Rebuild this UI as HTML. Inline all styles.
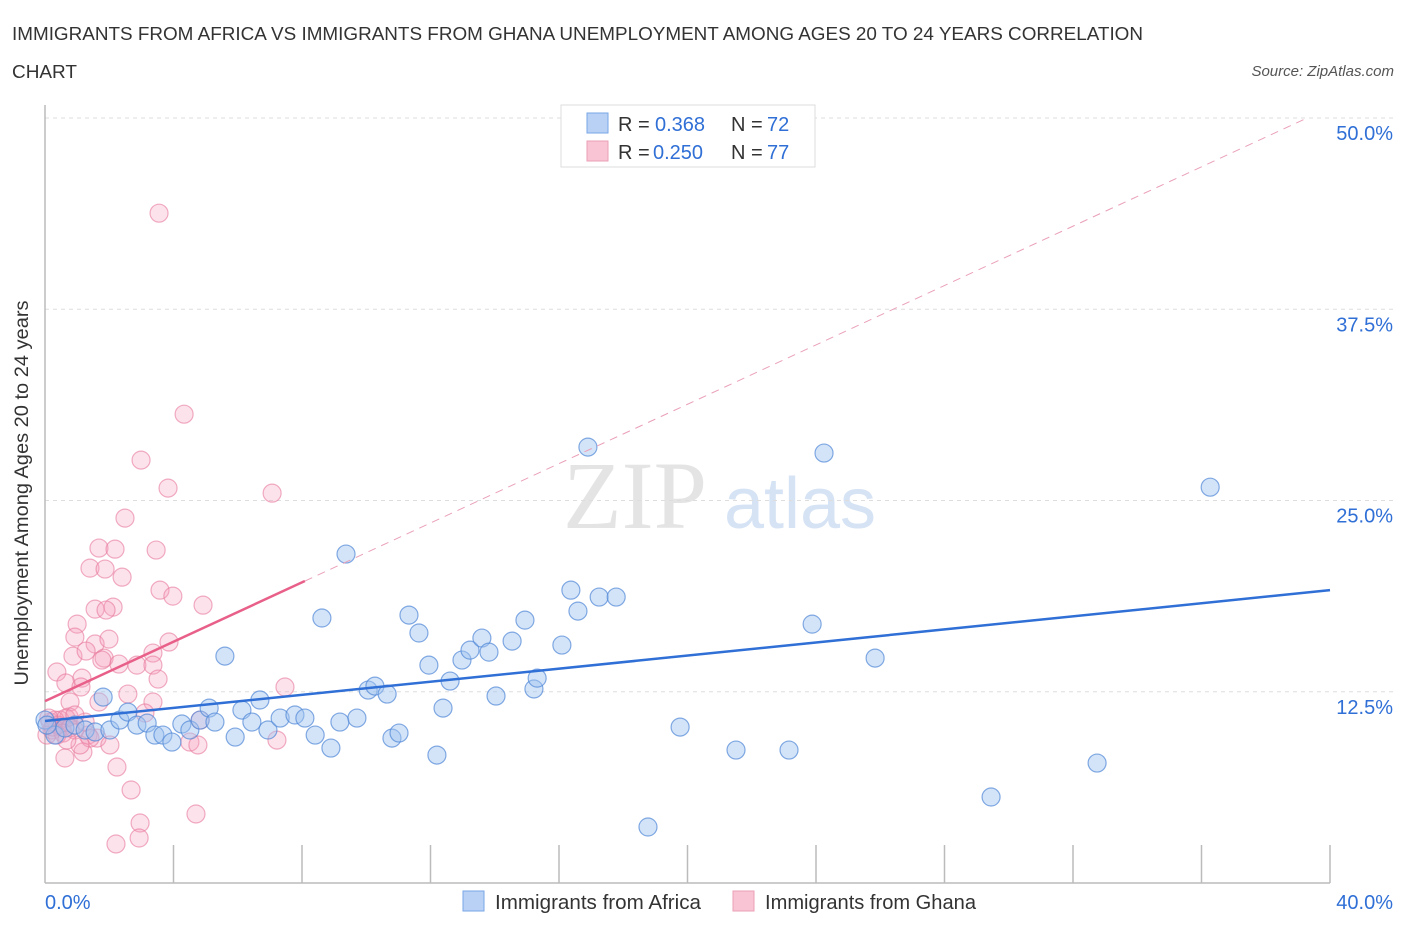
<!DOCTYPE html>
<html><head><meta charset="utf-8"><style>
body{margin:0;background:#fff;font-family:"Liberation Sans",sans-serif;}
svg text{font-family:"Liberation Sans",sans-serif;}
</style></head><body>
<svg id="chart" width="1406" height="930" viewBox="0 0 1406 930">
<text x="12" y="40" font-size="18.5" fill="#333" textLength="1131" lengthAdjust="spacingAndGlyphs">IMMIGRANTS FROM AFRICA VS IMMIGRANTS FROM GHANA UNEMPLOYMENT AMONG AGES 20 TO 24 YEARS CORRELATION</text>
<text x="12" y="78" font-size="18.5" fill="#333" textLength="65" lengthAdjust="spacingAndGlyphs">CHART</text>
<text x="1394" y="76" font-size="15" fill="#555" font-style="italic" text-anchor="end">Source: ZipAtlas.com</text>
<text x="635" y="528" font-size="96" fill="#e4e4e4" text-anchor="middle" style="font-family:'Liberation Serif',serif">ZIP</text>
<text x="800" y="528" font-size="72" fill="#d6e3f5" text-anchor="middle">atlas</text>
<g id="grid"></g>
<g id="axes"></g>
<g id="pinkpts"></g>
<g id="bluepts"></g>
<g id="trends"></g>
<text x="28" y="493" font-size="19" fill="#333" text-anchor="middle" textLength="385" lengthAdjust="spacingAndGlyphs" transform="rotate(-90 28 493)">Unemployment Among Ages 20 to 24 years</text>
<g>
<rect x="561" y="105" width="254" height="62" fill="#fff" stroke="#ddd"/>
<rect x="587" y="113" width="21" height="20" fill="#b8d1f5" stroke="#7aa6e6"/>
<rect x="587" y="141" width="21" height="20" fill="#f9c4d4" stroke="#eba0b7"/>
<text y="131" font-size="20" fill="#333"><tspan x="618">R =</tspan><tspan x="655" fill="#2f6fd6">0.368</tspan><tspan x="731">N =</tspan><tspan x="767" fill="#2f6fd6">72</tspan></text>
<text y="159" font-size="20" fill="#333"><tspan x="618">R =</tspan><tspan x="653" fill="#2f6fd6">0.250</tspan><tspan x="731">N =</tspan><tspan x="767" fill="#2f6fd6">77</tspan></text>
</g>
<g>
<rect x="463" y="891" width="21" height="20" fill="#b8d1f5" stroke="#7aa6e6"/>
<text x="495" y="909" font-size="20" fill="#333" textLength="206" lengthAdjust="spacingAndGlyphs">Immigrants from Africa</text>
<rect x="733" y="891" width="21" height="20" fill="#f9c4d4" stroke="#eba0b7"/>
<text x="765" y="909" font-size="20" fill="#333" textLength="211" lengthAdjust="spacingAndGlyphs">Immigrants from Ghana</text>
</g>
</svg>
<script>
const xMax = 40, yMax = 50;
const yTicks = [12.5, 25, 37.5, 50];
const yTickLabels = ["12.5%", "25.0%", "37.5%", "50.0%"];
const xTickVals = [4, 8, 12, 16, 20, 24, 28, 32, 36, 40];
const xEndLabels = ["0.0%", "40.0%"];
const africaX = [0,0.31,0.62,0.93,1.25,1.56,1.81,2.02,2.33,2.58,2.86,3.18,3.42,3.67,3.95,4.26,4.51,4.83,5.11,5.29,5.60,5.92,6.13,6.44,6.69,6.94,7.32,7.78,8.09,8.41,8.62,8.90,9.18,9.37,9.71,10.06,10.27,10.65,10.80,11.02,11.33,11.64,11.95,12.20,12.39,12.61,12.98,13.23,13.60,13.82,14.04,14.54,14.94,15.22,15.32,16.09,16.37,16.59,16.90,17.25,17.78,18.77,19.77,21.51,23.16,23.88,24.25,25.84,29.45,32.75,36.27,0.06];
const africaY = [10.65,9.67,10.13,10.32,10.0,9.87,12.15,10.0,10.65,11.17,10.32,10.45,9.67,9.67,9.21,10.39,10.0,10.65,11.43,10.52,14.83,9.54,11.30,10.52,11.96,10.0,10.78,10.98,10.78,9.67,17.32,8.82,10.52,21.50,10.78,12.61,12.87,12.35,9.47,9.80,17.51,16.34,14.24,8.36,11.43,13.20,14.57,15.22,16.01,15.09,12.22,15.81,17.18,12.68,13.39,15.55,19.14,17.77,28.49,18.69,18.69,3.66,10.19,8.69,8.69,16.92,28.10,14.70,5.62,7.84,25.87,10.32];
const ghanaX = [3.55,4.33,2.99,3.83,7.07,2.49,1.68,2.18,3.46,1.40,1.87,2.40,3.58,3.98,4.92,1.56,2.12,1.90,1.00,0.93,1.56,1.99,3.86,0.87,1.28,1.84,2.86,2.30,3.36,3.36,0.37,1.77,0.65,1.15,3.52,7.47,1.12,0.78,2.58,1.68,3.36,0.75,3.11,0.47,0.16,4.83,0.53,0.93,1.34,1.62,2.02,4.51,4.76,7.22,1.18,0.62,2.24,2.68,4.70,2.96,2.93,2.21,0.31,0.06,0.22,0.40,0.65,0.78,1.40,1.09,0.25,0.56,0.12,0.37,0.68,1.25,0.93];
const ghanaY = [43.78,30.64,27.64,25.81,25.48,23.85,21.89,21.82,21.76,20.58,20.52,19.99,19.14,18.75,18.16,17.90,18.03,17.84,16.92,16.07,15.62,15.94,15.75,14.83,15.16,14.70,14.24,14.31,15.03,14.24,13.79,14.57,13.07,13.39,13.33,12.81,12.81,11.83,12.35,11.83,11.83,10.85,11.11,10.65,10.52,10.65,10.19,10.0,9.67,9.47,9.02,9.21,9.02,9.34,8.56,8.17,7.58,6.08,4.51,3.92,2.94,2.55,10.65,9.67,10.0,10.32,10.78,10.13,9.47,9.02,10.19,9.80,10.78,9.67,9.34,10.52,10.98];
const africaTrend = [10.59, 19.14];
const ghanaTrend = [11.89, 0.97];
const ghanaSolidEnd = 8.09;

const X0 = 45, X1 = 1330, Y0 = 883, Y1 = 118;
function sx(v){ return X0 + v / xMax * (X1 - X0); }
function sy(v){ return Y0 - v / yMax * (Y0 - Y1); }
const NS = "http://www.w3.org/2000/svg";
function mk(tag, attrs, parent){ const e = document.createElementNS(NS, tag); for (const k in attrs) e.setAttribute(k, attrs[k]); document.getElementById(parent).appendChild(e); return e; }

yTicks.forEach((t, i) => {
  const g = mk('line', {x1: X0, x2: 1393, y1: sy(t), y2: sy(t), stroke: '#ddd', 'stroke-dasharray': '4,4'}, 'grid');
  
  
  const l = mk('text', {x: 1393, y: sy(t) + 22, 'font-size': 20, fill: '#2f6fd6', 'text-anchor': 'end'}, 'grid');
  l.textContent = yTickLabels[i];
  
  
});
const ax = mk('line', {x1: X0, x2: X1, y1: Y0, y2: Y0, stroke: '#bbb', 'stroke-width': 1.5}, 'axes');


const ay = mk('line', {x1: X0, x2: X0, y1: 105, y2: Y0, stroke: '#bbb', 'stroke-width': 1.5}, 'axes');


xTickVals.forEach(t => {
  const k = mk('line', {x1: sx(t), x2: sx(t), y1: Y0, y2: 845, stroke: '#bbb', 'stroke-width': 1.5}, 'axes');
  
  
});
const xl0 = mk('text', {x: 45, y: 909, 'font-size': 20, fill: '#2f6fd6'}, 'axes');
xl0.textContent = xEndLabels[0];


const xl1 = mk('text', {x: 1393, y: 909, 'font-size': 20, fill: '#2f6fd6', 'text-anchor': 'end'}, 'axes');
xl1.textContent = xEndLabels[1];



ghanaX.forEach((x, i) => {
  const c = mk('circle', {cx: sx(x), cy: sy(ghanaY[i]), r: 9, fill: 'rgba(244,160,188,0.3)', stroke: 'rgba(232,120,155,0.6)', 'stroke-width': 1.2}, 'pinkpts');
  
  
});
africaX.forEach((x, i) => {
  const c = mk('circle', {cx: sx(x), cy: sy(africaY[i]), r: 9, fill: 'rgba(160,195,240,0.45)', stroke: 'rgba(80,135,215,0.7)', 'stroke-width': 1.2}, 'bluepts');
  
  
});
const xTop = (yMax - ghanaTrend[0]) / ghanaTrend[1];
const pd = mk('line', {x1: sx(ghanaSolidEnd), y1: sy(ghanaTrend[0] + ghanaTrend[1]*ghanaSolidEnd), x2: sx(xTop), y2: sy(yMax), stroke: '#eaa0b8', 'stroke-width': 1, 'stroke-dasharray': '8,6'}, 'trends');


const ps = mk('line', {x1: sx(0), y1: sy(ghanaTrend[0]), x2: sx(ghanaSolidEnd), y2: sy(ghanaTrend[0] + ghanaTrend[1]*ghanaSolidEnd), stroke: '#e8608a', 'stroke-width': 2.5}, 'trends');


const bl = mk('line', {x1: sx(0), y1: sy(africaTrend[0]), x2: sx(xMax), y2: sy(africaTrend[1]), stroke: '#2f6fd6', 'stroke-width': 2.5}, 'trends');


</script>
</body></html>
